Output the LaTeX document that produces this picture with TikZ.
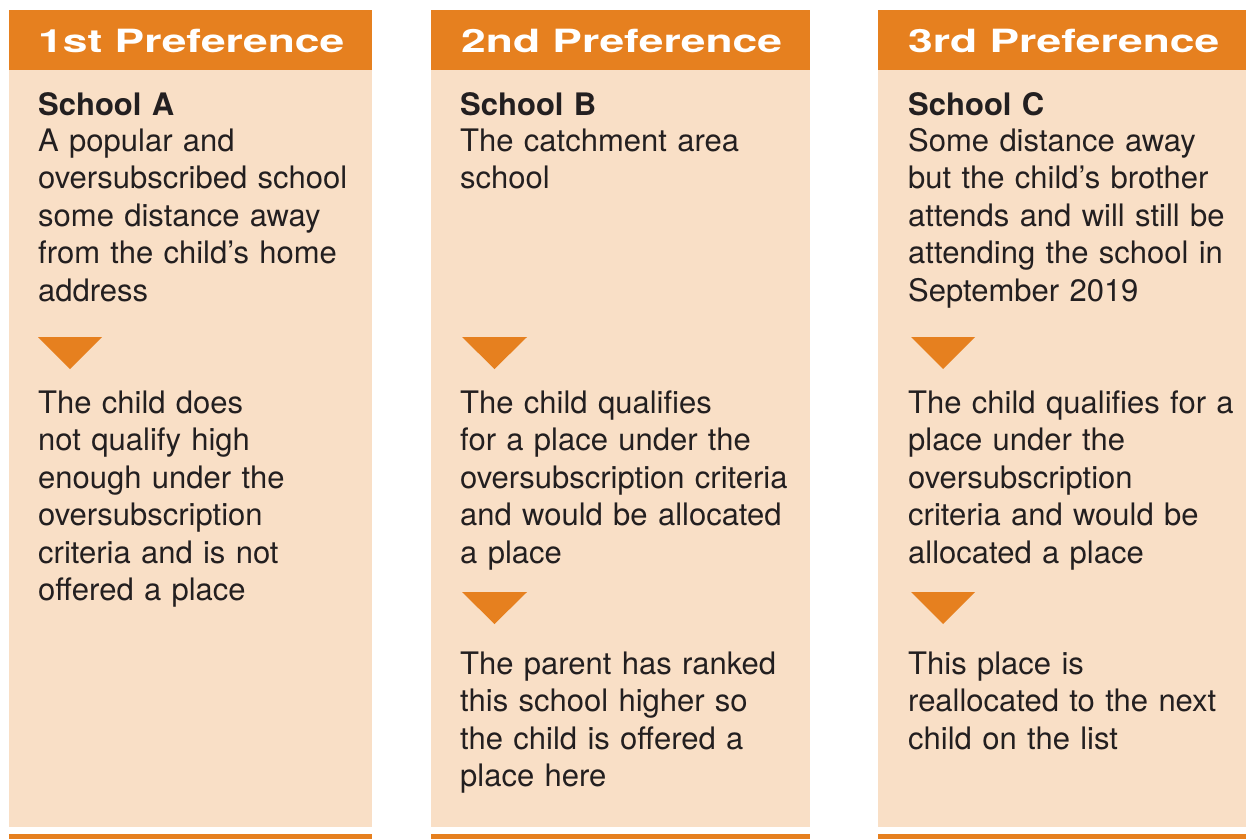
\documentclass[tikz,border=0pt]{standalone}
\usepackage{fontspec}
\setmainfont{TeX Gyre Heros}
\usepackage{graphicx}
\definecolor{bandorange}{HTML}{E6801F}
\definecolor{peach}{HTML}{F9DFC6}
\definecolor{ink}{HTML}{231F20}
\begin{document}
\begin{tikzpicture}[x=1pt,y=-1pt,
  body/.style={anchor=base west, inner sep=0pt, text width=360pt, align=left,
    font=\fontsize{31}{37.5}\selectfont, text=ink},
  title/.style={body, font=\fontsize{31}{37.5}\bfseries\selectfont},
  head/.style={anchor=base west, inner sep=0pt,
    font=\fontsize{32}{38}\bfseries\selectfont, text=white},
  panel/.style={fill=peach},
  band/.style={fill=bandorange},
  arrowtri/.style={fill=bandorange}]
\useasboundingbox (0,0) rectangle (1246,839);
% column backgrounds
\fill[panel] (9,70) rectangle (372,827);
\fill[panel] (431,70) rectangle (810,827);
\fill[panel] (878,70) rectangle (1246,827);
% header bands
\fill[band] (9,10) rectangle (372,70);
\fill[band] (431,10) rectangle (810,70);
\fill[band] (878,10) rectangle (1246,70);
% bottom strips
\fill[band] (9,834) rectangle (372,839);
\fill[band] (431,834) rectangle (810,839);
\fill[band] (878,834) rectangle (1246,839);
% headers
\node[head] (h1) at (38,52) {\scalebox{1.387}[1]{1st Preference}};
\node[head] (h2) at (461,52) {\scalebox{1.387}[1]{2nd Preference}};
\node[head] (h3) at (908,52) {\scalebox{1.387}[1]{3rd Preference}};
% column 1
\node[title] (sa) at (38,115) {School A};
\node[body] (a1) at (38,151) {A popular and\\oversubscribed school\\some distance away\\from the child’s home\\address};
\fill[arrowtri] (38,337) -- (102,337) -- (70,369) -- cycle;
\node[body] (a2) at (38,413) {The child does\\not qualify high\\enough under the\\oversubscription\\criteria and is not\\offered a place};
% column 2
\node[title] (sb) at (460,115) {School B};
\node[body] (b1) at (460,151) {The catchment area\\school};
\fill[arrowtri] (462,337) -- (527,337) -- (494.5,369) -- cycle;
\node[body] (b2) at (460,413) {The child qualifies\\for a place under the\\oversubscription criteria\\and would be allocated\\a place};
\fill[arrowtri] (462,592) -- (527,592) -- (494.5,624) -- cycle;
\node[body] (b3) at (460,674) {The parent has ranked\\this school higher so\\the child is offered a\\place here};
% column 3
\node[title] (sc) at (908,115) {School C};
\node[body] (c1) at (908,151) {Some distance away\\but the child’s brother\\attends and will still be\\attending the school in\\September 2019};
\fill[arrowtri] (911,337) -- (975,337) -- (943,369) -- cycle;
\node[body] (c2) at (908,413) {The child qualifies for a\\place under the\\oversubscription\\criteria and would be\\allocated a place};
\fill[arrowtri] (911,592) -- (975,592) -- (943,624) -- cycle;
\node[body] (c3) at (908,674) {This place is\\reallocated to the next\\child on the list};
\end{tikzpicture}
\end{document}
